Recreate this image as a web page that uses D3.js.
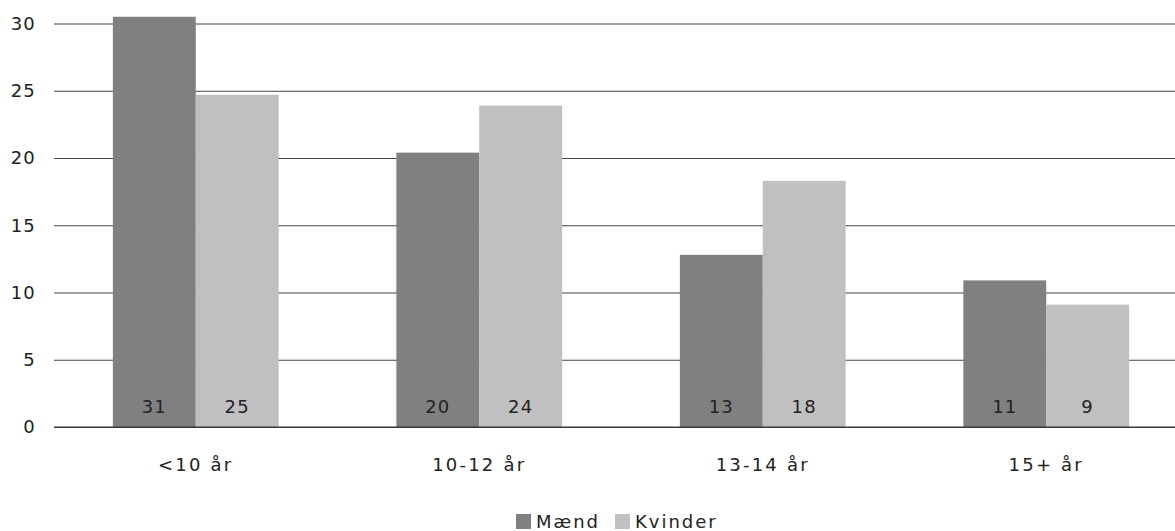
<!DOCTYPE html>
<html>
<head>
<meta charset="utf-8">
<script src="https://cdn.jsdelivr.net/npm/d3@7"></script>
<style>
  html, body { margin: 0; padding: 0; background: #fff; }
  svg { display: block; font-family: "DejaVu Sans", Verdana, sans-serif; }
</style>
</head>
<body>
<svg id="chart" width="1175" height="531"></svg>
<script>
// Age groups and share per gender
const categories = ["<10 år", "10-12 år", "13-14 år", "15+ år"];
const seriesNames = ["Mænd", "Kvinder"];
const maend = [30.5, 20.4, 12.8, 10.9];
const kvinder = [24.7, 23.9, 18.3, 9.1];
const yTicks = [0, 5, 10, 15, 20, 25, 30];
const colors = ["#808080", "#c0c0c0"];

const svg = d3.select("#chart");
const FONT = "DejaVu Sans, sans-serif";
const margin = { left: 54 };
const plotRight = 1188;
const y0 = 427;

const x = d3.scaleBand().domain(categories).range([margin.left, plotRight]).paddingInner(0).paddingOuter(0);
const inner = d3.scaleBand().domain(seriesNames).range([0, x.bandwidth()]).paddingOuter(0.71).paddingInner(0);
const y = d3.scaleLinear().domain([0, 30]).range([y0, 23.5]);

// Gridlines and y tick labels
const yAxis = d3.axisLeft(y).tickValues(yTicks).tickSize(-(plotRight - margin.left)).tickPadding(18);
const gy = svg.append("g").attr("transform", `translate(${margin.left},0)`).call(yAxis);
gy.select(".domain").remove();
gy.selectAll(".tick line").attr("stroke", "#444").attr("stroke-width", 1.2);
gy.selectAll(".tick text")
  .attr("fill", "#222").attr("font-size", 18).attr("font-family", FONT)
  .attr("letter-spacing", 1.2);

const rows = categories.map((c, i) => ({ cat: c, values: [maend[i], kvinder[i]] }));

const groups = svg.append("g").selectAll("g").data(rows).join("g")
  .attr("transform", d => `translate(${x(d.cat)},0)`);

const bars = groups.selectAll("g.bar").data(d => d.values.map((v, j) => ({ name: seriesNames[j], v, j })))
  .join("g").attr("class", "bar");

bars.append("rect")
  .attr("x", d => inner(d.name))
  .attr("width", inner.bandwidth())
  .attr("y", d => y(d.v))
  .attr("height", d => y(0) - y(d.v))
  .attr("fill", d => colors[d.j]);

bars.append("text")
  .attr("x", d => inner(d.name) + inner.bandwidth() / 2)
  .attr("y", y(0) - 14)
  .attr("text-anchor", "middle")
  .attr("font-size", 18)
  .attr("letter-spacing", 1.2)
  .attr("fill", "#222")
  .text(d => Math.round(d.v));

// Baseline
svg.append("line")
  .attr("x1", margin.left).attr("x2", plotRight)
  .attr("y1", y(0)).attr("y2", y(0))
  .attr("stroke", "#333").attr("stroke-width", 1.2);

// Category labels
const xAxis = d3.axisBottom(x).tickSize(0).tickPadding(31);
const gx = svg.append("g").attr("transform", `translate(0,${y0})`).call(xAxis);
gx.select(".domain").remove();
gx.selectAll(".tick text")
  .attr("fill", "#222").attr("font-size", 18).attr("font-family", FONT)
  .attr("letter-spacing", 2.2);

// Legend
const legend = svg.append("g").attr("transform", "translate(516,514)");
const items = [{ name: "Mænd", x: 0 }, { name: "Kvinder", x: 99 }];
items.forEach((it, i) => {
  legend.append("rect").attr("x", it.x).attr("y", 0).attr("width", 15).attr("height", 15).attr("fill", colors[i]);
  legend.append("text").attr("x", it.x + 20).attr("y", 13.5)
    .attr("font-size", 18).attr("letter-spacing", 2).attr("fill", "#222").text(it.name);
});
</script>
</body>
</html>
